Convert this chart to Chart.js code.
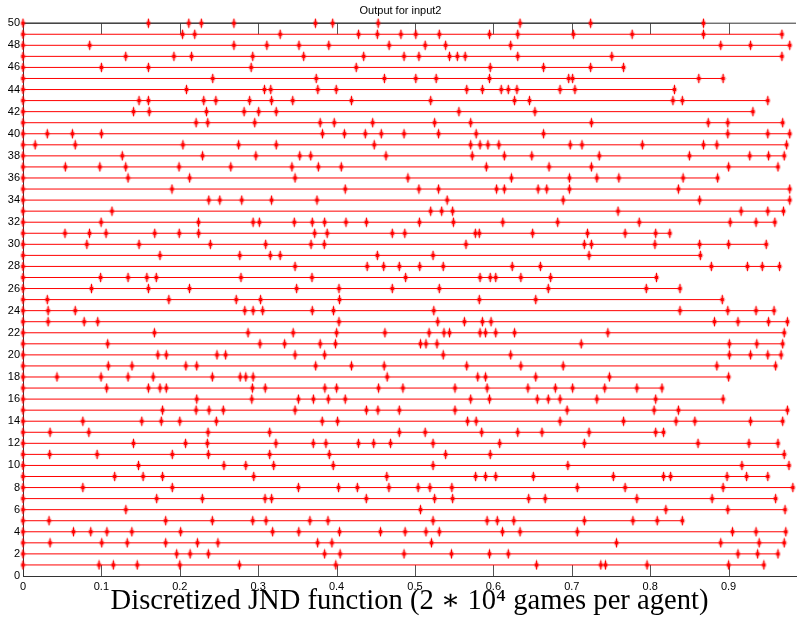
<!DOCTYPE html>
<html>
<head>
<meta charset="utf-8">
<script src="https://cdn.jsdelivr.net/npm/chart.js@4.4.1/dist/chart.umd.min.js"></script>
<style>
  html, body { margin: 0; padding: 0; background: #fff; }
  canvas { display: block; }
</style>
</head>
<body>
<canvas id="myChart" width="801" height="641"></canvas>
<script>
// Tick labels
const xTicks = [0, 0.1, 0.2, 0.3, 0.4, 0.5, 0.6, 0.7, 0.8, 0.9];
const yTicks = [0, 2, 4, 6, 8, 10, 12, 14, 16, 18, 20, 22, 24, 26, 28, 30, 32, 34, 36, 38, 40, 42, 44, 46, 48, 50];

// Marker positions for each agent row (y = row number)
const row1 = [0, 0.097, 0.1152, 0.1457, 0.2, 0.276, 0.399, 0.655, 0.737, 0.743, 0.796, 0.900, 0.945];
const row2 = [0, 0.196, 0.2131, 0.2364, 0.3847, 0.4045, 0.486, 0.5465, 0.595, 0.619, 0.912, 0.937, 0.963];
const row3 = [0, 0.0345, 0.1004, 0.1329, 0.182, 0.2225, 0.2486, 0.3758, 0.394, 0.521, 0.757, 0.890, 0.939, 0.971];
const row4 = [0, 0.0644, 0.0864, 0.107, 0.1388, 0.201, 0.3184, 0.3518, 0.4037, 0.456, 0.4874, 0.514, 0.531, 0.6116, 0.634, 0.707, 0.905, 0.935, 0.973];
const row5 = [0, 0.0332, 0.182, 0.2415, 0.293, 0.310, 0.366, 0.389, 0.523, 0.592, 0.605, 0.626, 0.716, 0.778, 0.809, 0.841];
const row6 = [0, 0.1312, 0.507, 0.820, 0.899, 0.972];
const row7 = [0, 0.1705, 0.2288, 0.3087, 0.3171, 0.4379, 0.525, 0.548, 0.645, 0.666, 0.783, 0.879, 0.960];
const row8 = [0, 0.0763, 0.1904, 0.3513, 0.4025, 0.4265, 0.4667, 0.504, 0.519, 0.547, 0.707, 0.768, 0.893, 0.982];
const row9 = [0, 0.1169, 0.1532, 0.178, 0.2943, 0.464, 0.5773, 0.590, 0.603, 0.651, 0.753, 0.817, 0.826, 0.898, 0.923, 0.950];
const row10 = [0, 0.1473, 0.2563, 0.2842, 0.3197, 0.3957, 0.523, 0.695, 0.917, 0.977];
const row11 = [0, 0.034, 0.0945, 0.1904, 0.2364, 0.3146, 0.3907, 0.539, 0.596, 0.971];
const row12 = [0, 0.1409, 0.2073, 0.2351, 0.3226, 0.3703, 0.3864, 0.4278, 0.4473, 0.4688, 0.523, 0.608, 0.716, 0.861, 0.926, 0.963];
const row13 = [0, 0.0345, 0.084, 0.236, 0.3146, 0.480, 0.513, 0.585, 0.631, 0.662, 0.722, 0.807, 0.817];
const row14 = [0, 0.0763, 0.1515, 0.1764, 0.200, 0.2466, 0.3817, 0.4012, 0.567, 0.578, 0.685, 0.766, 0.833, 0.857, 0.928, 0.969];
const row15 = [0, 0.178, 0.2208, 0.2373, 0.2555, 0.347, 0.438, 0.4527, 0.480, 0.551, 0.694, 0.805, 0.836, 0.975];
const row16 = [0, 0.2216, 0.2918, 0.3513, 0.3704, 0.3894, 0.411, 0.571, 0.595, 0.656, 0.670, 0.685, 0.732, 0.807, 0.893];
const row17 = [0, 0.1067, 0.160, 0.1747, 0.1828, 0.2926, 0.309, 0.385, 0.400, 0.4535, 0.4846, 0.551, 0.592, 0.644, 0.679, 0.701, 0.742, 0.783, 0.815];
const row18 = [0, 0.0433, 0.0995, 0.134, 0.166, 0.2415, 0.277, 0.2842, 0.2935, 0.4645, 0.580, 0.590, 0.654, 0.748, 0.900];
const row19 = [0, 0.1088, 0.139, 0.2077, 0.2216, 0.3733, 0.419, 0.4607, 0.566, 0.635, 0.689, 0.885, 0.960];
const row20 = [0, 0.172, 0.1828, 0.2474, 0.2584, 0.347, 0.3847, 0.536, 0.622, 0.901, 0.928, 0.950, 0.967];
const row21 = [0, 0.108, 0.3023, 0.3337, 0.379, 0.3986, 0.507, 0.514, 0.528, 0.712, 0.901, 0.936, 0.969];
const row22 = [0, 0.1676, 0.287, 0.3446, 0.400, 0.4616, 0.518, 0.537, 0.544, 0.583, 0.590, 0.603, 0.627, 0.746, 0.971];
const row23 = [0, 0.032, 0.078, 0.0953, 0.403, 0.529, 0.563, 0.586, 0.597, 0.882, 0.912, 0.951, 0.975];
const row24 = [0, 0.032, 0.0666, 0.2829, 0.2935, 0.3057, 0.369, 0.396, 0.524, 0.838, 0.899, 0.935, 0.958];
const row25 = [0, 0.031, 0.186, 0.272, 0.303, 0.4037, 0.582, 0.654, 0.892];
const row26 = [0, 0.0873, 0.160, 0.2123, 0.349, 0.403, 0.471, 0.531, 0.670, 0.795, 0.838];
const row27 = [0, 0.099, 0.134, 0.158, 0.170, 0.278, 0.3686, 0.488, 0.583, 0.596, 0.603, 0.635, 0.673, 0.808];
const row28 = [0, 0.347, 0.439, 0.460, 0.480, 0.506, 0.536, 0.624, 0.660, 0.878, 0.924, 0.943, 0.965];
const row29 = [0, 0.1747, 0.2765, 0.3154, 0.328, 0.452, 0.523, 0.722, 0.864];
const row30 = [0, 0.0814, 0.148, 0.239, 0.3095, 0.3674, 0.3843, 0.565, 0.716, 0.725, 0.806, 0.863, 0.900, 0.948];
const row31 = [0, 0.0535, 0.0848, 0.1059, 0.168, 0.1993, 0.224, 0.372, 0.388, 0.471, 0.487, 0.577, 0.582, 0.650, 0.720, 0.768, 0.807, 0.825];
const row32 = [0, 0.0996, 0.2238, 0.2935, 0.3015, 0.346, 0.369, 0.3847, 0.412, 0.438, 0.5056, 0.549, 0.612, 0.682, 0.786, 0.902, 0.935, 0.959];
const row33 = [0, 0.1135, 0.520, 0.534, 0.548, 0.759, 0.916, 0.950, 0.970];
const row34 = [0, 0.237, 0.251, 0.279, 0.317, 0.375, 0.541, 0.689, 0.863, 0.978];
const row35 = [0, 0.190, 0.411, 0.505, 0.530, 0.604, 0.614, 0.657, 0.668, 0.697, 0.836, 0.978];
const row36 = [0, 0.134, 0.2125, 0.347, 0.491, 0.623, 0.697, 0.732, 0.760, 0.842, 0.886];
const row37 = [0, 0.054, 0.098, 0.131, 0.199, 0.265, 0.343, 0.3767, 0.406, 0.591, 0.671, 0.725, 0.900, 0.963];
const row38 = [0, 0.1266, 0.229, 0.297, 0.353, 0.367, 0.463, 0.573, 0.614, 0.649, 0.735, 0.850, 0.927, 0.951, 0.971];
const row39 = [0, 0.0155, 0.0666, 0.204, 0.275, 0.323, 0.448, 0.571, 0.583, 0.593, 0.607, 0.698, 0.713, 0.790, 0.868, 0.885, 0.974];
const row40 = [0, 0.031, 0.063, 0.100, 0.382, 0.410, 0.4366, 0.457, 0.486, 0.530, 0.578, 0.664, 0.899, 0.950, 0.978];
const row41 = [0, 0.2208, 0.2356, 0.2956, 0.379, 0.397, 0.446, 0.525, 0.571, 0.725, 0.874, 0.899, 0.969];
const row42 = [0, 0.141, 0.161, 0.234, 0.282, 0.3006, 0.323, 0.556, 0.653, 0.931];
const row43 = [0, 0.148, 0.160, 0.2305, 0.246, 0.289, 0.317, 0.344, 0.419, 0.520, 0.627, 0.646, 0.829, 0.841, 0.950];
const row44 = [0, 0.2085, 0.308, 0.316, 0.376, 0.3995, 0.566, 0.586, 0.610, 0.619, 0.630, 0.685, 0.704, 0.831];
const row45 = [0, 0.242, 0.374, 0.461, 0.501, 0.527, 0.595, 0.696, 0.701, 0.862, 0.893];
const row46 = [0, 0.100, 0.160, 0.291, 0.425, 0.596, 0.664, 0.724, 0.766];
const row47 = [0, 0.131, 0.1925, 0.215, 0.293, 0.358, 0.4345, 0.486, 0.505, 0.544, 0.554, 0.564, 0.631, 0.751, 0.968];
const row48 = [0, 0.085, 0.269, 0.311, 0.352, 0.390, 0.467, 0.513, 0.539, 0.622, 0.890, 0.928, 0.978];
const row49 = [0, 0.2035, 0.219, 0.328, 0.428, 0.452, 0.482, 0.501, 0.531, 0.595, 0.631, 0.702, 0.777, 0.868, 0.968];
const row50 = [0, 0.160, 0.2115, 0.2275, 0.269, 0.373, 0.395, 0.453, 0.634, 0.724, 0.868];

const rows = [row1, row2, row3, row4, row5, row6, row7, row8, row9, row10,
  row11, row12, row13, row14, row15, row16, row17, row18, row19, row20,
  row21, row22, row23, row24, row25, row26, row27, row28, row29, row30,
  row31, row32, row33, row34, row35, row36, row37, row38, row39, row40,
  row41, row42, row43, row44, row45, row46, row47, row48, row49, row50];

const tickFont = { family: "'Liberation Sans Narrow', 'Arial Narrow', 'Liberation Sans', sans-serif", size: 11 };

// small vertical diamond marker, like the matlab one
function makeMarker() {
  const c = document.createElement('canvas');
  c.width = 7; c.height = 11;
  const g = c.getContext('2d');
  g.fillStyle = 'rgba(255,0,0,0.4)';
  g.beginPath();
  g.moveTo(3.5, 0); g.lineTo(6.5, 5.5); g.lineTo(3.5, 11); g.lineTo(0.5, 5.5);
  g.closePath();
  g.fill();
  g.fillStyle = '#ff0000';
  g.fillRect(3, 1, 1, 9);
  g.fillRect(2, 4, 3, 3);
  return c;
}
const marker = makeMarker();

const datasets = rows.map((r, i) => ({
  label: 'agent ' + (i + 1),
  data: r.map(v => ({ x: v, y: i + 1 })),
  showLine: true,
  borderColor: i === 49 ? '#333' : '#ff0000',
  borderWidth: 1,
  pointStyle: marker,
  pointRadius: 4,
  clip: false
}));

// top box edge + inward ticks
const axesBox = {
  id: 'axesBox',
  beforeDatasetsDraw(chart) {
    const { ctx, chartArea: a, scales: { x } } = chart;
    ctx.save();
    ctx.lineWidth = 1;
    ctx.strokeStyle = '#555';
    ctx.beginPath();
    xTicks.forEach(v => {
      if (v === 0) return;
      const px = Math.round(x.getPixelForValue(v)) + 0.5;
      ctx.moveTo(px, a.top); ctx.lineTo(px, a.top + 11);
      ctx.moveTo(px, a.bottom); ctx.lineTo(px, a.bottom - 11);
    });
    ctx.stroke();
    ctx.strokeStyle = '#333';
    ctx.beginPath();
    ctx.moveTo(a.left, a.top); ctx.lineTo(a.right, a.top);
    ctx.stroke();
    ctx.restore();
  }
};

const ctx = document.getElementById('myChart');
new Chart(ctx, {
  type: 'scatter',
  data: { datasets },
  plugins: [axesBox],
  options: {
    responsive: false,
    animation: false,
    layout: { padding: { left: 0, right: 0, top: 0, bottom: 18 } },
    plugins: {
      legend: { display: false },
      tooltip: { enabled: false },
      title: {
        display: true,
        text: 'Output for input2',
        color: '#000',
        font: { family: tickFont.family, size: 11, weight: 'normal' },
        padding: { top: 4, bottom: 6 }
      }
    },
    scales: {
      x: {
        type: 'linear',
        min: 0,
        max: 0.986,
        afterBuildTicks: s => { s.ticks = xTicks.map(v => ({ value: v })); },
        afterFit: s => { s.height = 47; },
        grid: { display: false, drawTicks: false },
        border: { display: true, color: '#333' },
        ticks: { color: '#000', font: tickFont, padding: 4, maxRotation: 0, autoSkip: false, callback: v => String(v) },
        title: {
          display: true,
          text: 'Discretized JND function (2 \u2217 10\u2074 games per agent)',
          color: '#000',
          font: { family: "'Liberation Serif', 'DejaVu Serif', serif", size: 28.6 },
          padding: { top: 0, bottom: 4 }
        }
      },
      y: {
        type: 'linear',
        min: 0,
        max: 50,
        afterBuildTicks: s => { s.ticks = yTicks.map(v => ({ value: v })); },
        afterFit: s => { s.width = 23; },
        grid: { display: false, drawTicks: false },
        border: { display: true, color: '#333' },
        ticks: { color: '#000', font: tickFont, padding: 3, autoSkip: false }
      }
    }
  }
});
</script>
</body>
</html>
